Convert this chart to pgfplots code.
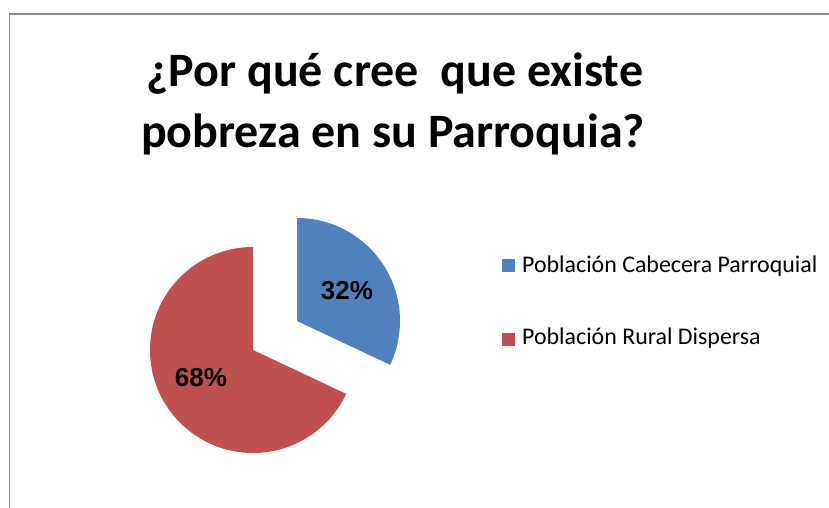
\documentclass[border=0pt]{standalone}
\usepackage{pgfplots}
\usepackage{pgfplotstable}
\pgfplotsset{compat=1.18}
\usepackage{fontspec}
\setmainfont{Carlito}
\newfontfamily\arialb{Liberation Sans}
\definecolor{pieblue}{HTML}{4F81BD}
\definecolor{piered}{HTML}{C0504D}
\definecolor{framegray}{HTML}{8C8C8C}
\pgfplotstableread{
label value
Cabecera 32
Rural 68
}\piedata
\begin{document}
\begin{tikzpicture}
\path[use as bounding box] (0,0) rectangle (829bp,508bp);
\pgfplotstablegetelem{0}{value}\of\piedata
\pgfmathsetmacro{\va}{\pgfplotsretval}
\pgfplotstablegetelem{1}{value}\of\piedata
\pgfmathsetmacro{\vb}{\pgfplotsretval}
\pgfmathsetmacro{\aend}{90-3.6*\va}
\pgfmathsetmacro{\bend}{90+3.6*\vb}
\begin{axis}[hide axis, scale only axis, width=829bp, height=508bp,
  xmin=0, xmax=829, ymin=0, ymax=508, clip=false, at={(0,0)}, anchor=south west]
% frame
\draw[framegray, line width=1.5bp] (axis cs:9.5,0) -- (axis cs:9.5,494) -- (axis cs:829,494);
% pie
\fill[pieblue] (axis cs:297,187) -- (axis cs:297,290) arc[start angle=90, end angle=\aend, radius=103bp] -- cycle;
\fill[piered] (axis cs:253,158) -- (axis cs:253,261) arc[start angle=90, end angle=\bend, radius=103bp] -- cycle;
\node[font=\arialb\bfseries\fontsize{26bp}{30bp}\selectfont, anchor=base] at (axis cs:347,208) {\va\%};
\node[font=\arialb\bfseries\fontsize{26bp}{30bp}\selectfont, anchor=base] at (axis cs:201,121) {\vb\%};
% title
\node[font=\bfseries\fontsize{48bp}{56bp}\selectfont, anchor=base] at (axis cs:395,421) {¿Por qué cree\ \ que existe};
\node[font=\bfseries\fontsize{48bp}{56bp}\selectfont, anchor=base] at (axis cs:393,360) {pobreza en su Parroquia?};
% legend
\fill[pieblue] (axis cs:502,236) rectangle (axis cs:515,249);
\fill[piered] (axis cs:502,162) rectangle (axis cs:515,175);
\node[font=\fontsize{23.9bp}{28bp}\selectfont, anchor=base west, inner sep=0pt] at (axis cs:522,235) {Población Cabecera Parroquial};
\node[font=\fontsize{23.9bp}{28bp}\selectfont, anchor=base west, inner sep=0pt] at (axis cs:522,163) {Población Rural Dispersa};
\end{axis}
\end{tikzpicture}
\end{document}
